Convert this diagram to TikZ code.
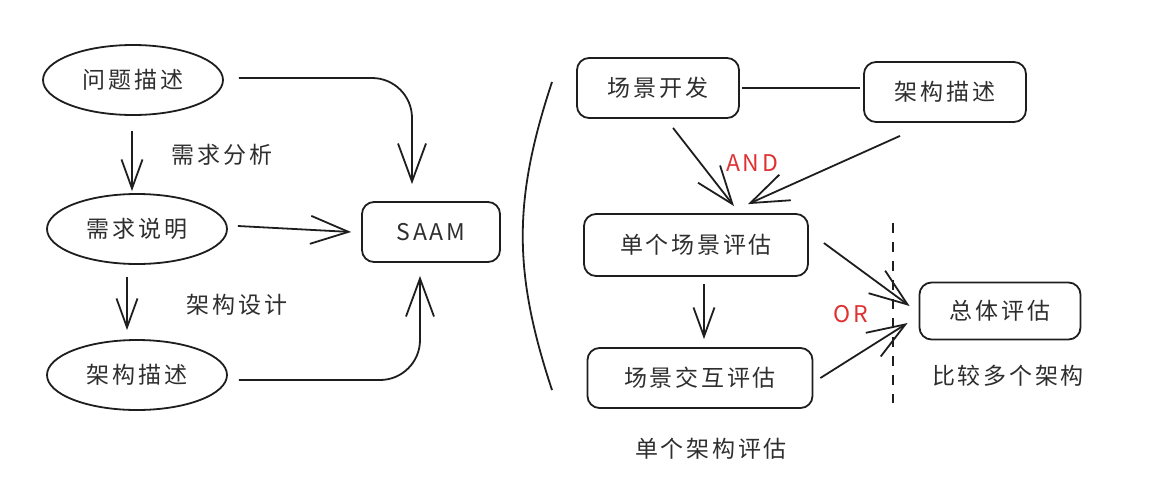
\documentclass[tikz,border=0pt]{standalone}
\usepackage{fontspec}
\setmainfont{Noto Sans CJK SC}[LetterSpace=12]
\usetikzlibrary{arrows.meta,shapes.geometric}
\definecolor{ink}{HTML}{1E1E1E}
\definecolor{txt}{HTML}{2E2E2E}
\definecolor{redtxt}{HTML}{E03131}
\begin{document}
\begin{tikzpicture}[x=1pt,y=-1pt,
  every node/.style={font=\fontsize{23}{26}\selectfont, text=txt},
  ell/.style={draw=ink, line width=1.8pt, ellipse, minimum width=180pt, minimum height=70pt, inner sep=0pt},
  rbox/.style={draw=ink, line width=1.8pt, rounded corners=12pt, minimum height=60pt, inner sep=0pt},
  lbl/.style={text=txt},
  redlbl/.style={text=redtxt},
  conn/.style={draw=ink, line width=1.8pt},
  arrL/.style={conn, -{Straight Barb[length=38pt,width=28pt,line width=1.8pt]}},
  arrS/.style={conn, -{Straight Barb[length=29pt,width=21pt,line width=1.8pt]}}
]
\useasboundingbox (0,0) rectangle (1157,496);

% left part
\node[ell] (p1) at (133,80) {问题描述};
\node[ell] (p2) at (137,229) {需求说明};
\node[ell] (p3) at (137,375) {架构描述};
\node[rbox, minimum width=138pt] (saam) at (431,232) {SAAM};

\node[lbl] (l1) at (222,155) {需求分析};
\node[lbl] (l2) at (237,305) {架构设计};

\draw[arrS] ([xshift=-1,yshift=-15]p1.south) -- ([xshift=-5,yshift=2]p2.north);
\draw[arrS] ([xshift=-10,yshift=-12]p2.south) -- ([xshift=-10,yshift=9]p3.north);
\draw[arrL, rounded corners=40pt] ([xshift=15,yshift=2]p1.east) -| ([xshift=-19,yshift=17]saam.north);
\draw[arrL] ([xshift=10,yshift=3]p2.east) -- ([xshift=-10,yshift=0]saam.west);
\draw[arrL, rounded corners=40pt] ([xshift=11,yshift=-5]p3.east) -| ([xshift=-11,yshift=-13]saam.south);

% bracket
\coordinate (bt) at (552,82);
\coordinate (bb) at (552,390);
\draw[conn] (bt) .. controls (513,200) and (513,272) .. (bb);

% right part
\node[rbox, minimum width=162pt] (sc) at (658,88) {场景开发};
\node[rbox, minimum width=162pt] (jg) at (945,92) {架构描述};
\node[rbox, minimum width=224pt, minimum height=62pt] (dan) at (696,245) {单个场景评估};
\node[rbox, minimum width=225pt] (jh) at (700,378) {场景交互评估};
\node[rbox, minimum width=161pt, minimum height=57pt] (zt) at (1000,311) {总体评估};

\draw[conn] ([xshift=2]sc.east) -- ([xshift=-3]sc.east -| jg.west);
\draw[arrL] ([xshift=15,yshift=-9]sc.south) -- ([xshift=38,yshift=7]dan.north);
\draw[arrL] ([xshift=-45,yshift=-13]jg.south) -- ([xshift=52,yshift=9]dan.north);
\draw[arrS] ([xshift=8,yshift=-7]dan.south) -- ([xshift=4,yshift=8]jh.north);
\draw[arrL] ([xshift=15,yshift=2]dan.east) -- ([xshift=-9,yshift=5]zt.west);
\draw[arrL] ([xshift=7,yshift=0]jh.east) -- ([xshift=-11,yshift=-12]zt.west);

\node[redlbl] (and) at (752,163) {AND};
\node[redlbl] (or) at (851,314) {OR};

\coordinate (dt) at (893,223);
\coordinate (db) at (893,403);
\draw[conn, dash pattern=on 10pt off 9pt] (dt) -- (db);

\node[lbl] (cmp) at (1008,376) {比较多个架构};
\node[lbl] (single) at (711,449) {单个架构评估};
\end{tikzpicture}
\end{document}
